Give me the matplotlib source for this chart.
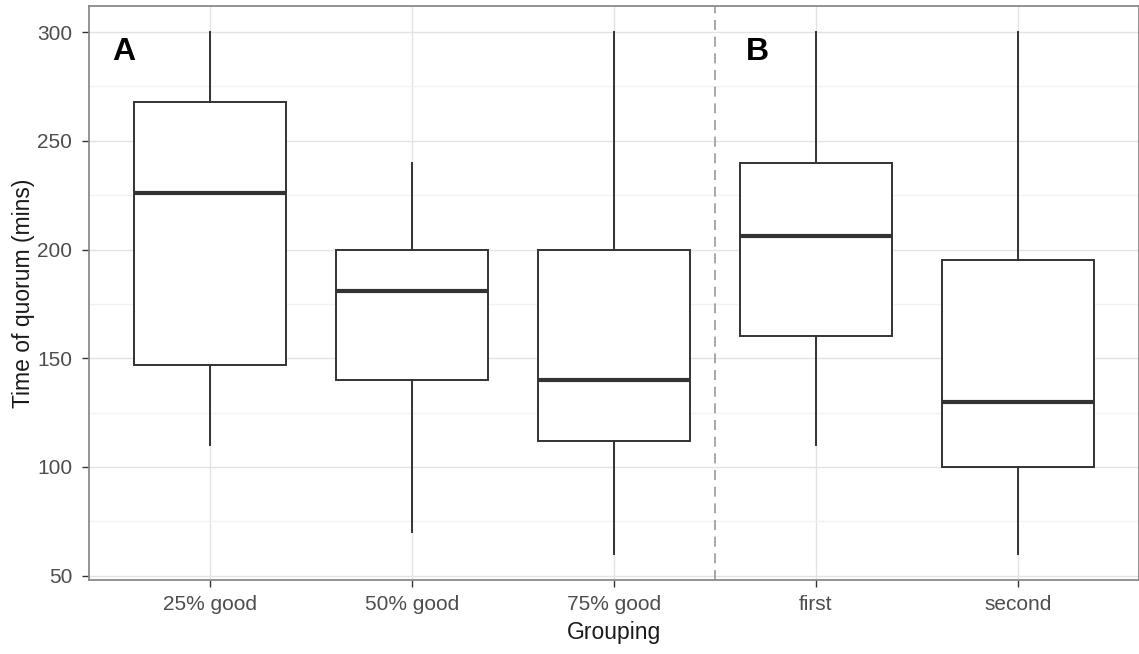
import matplotlib
matplotlib.use('Agg')
import matplotlib.pyplot as plt
from matplotlib.ticker import MultipleLocator

plt.rcParams['font.family'] = ['Liberation Sans', 'DejaVu Sans']

# boxplot summary values (minutes)
groups = ['25% good', '50% good', '75% good', 'first', 'second']
whislo = [110, 70, 60, 110, 60]
q1 = [147, 140, 112, 160, 100]
med = [226, 181, 140, 206, 130]
q3 = [268, 200, 200, 240, 195]
whishi = [300, 240, 300, 300, 300]
panel_tags = ['A', 'B']
panel_tag_x = [0.57, 3.71]
panel_tag_y = 291
split_at = 3.5

stats = []
for i in range(len(groups)):
    stats.append({'label': groups[i], 'whislo': whislo[i], 'q1': q1[i],
                  'med': med[i], 'q3': q3[i], 'whishi': whishi[i], 'fliers': []})

fig = plt.figure(figsize=(11.39, 6.54), dpi=100)
ax = fig.add_axes([89/1139, 1 - 580/654, 1 - 89/1139, 574/654])

line_col = '#333333'
ax.bxp(stats, positions=range(1, len(groups) + 1), widths=0.75,
       showcaps=False, patch_artist=True,
       boxprops=dict(facecolor='white', edgecolor=line_col, linewidth=1.4),
       medianprops=dict(color=line_col, linewidth=3),
       whiskerprops=dict(color=line_col, linewidth=1.4))

ax.set_xlim(0.4, 5.6)
ax.set_ylim(48, 312)
ax.yaxis.set_major_locator(MultipleLocator(50))
ax.yaxis.set_minor_locator(MultipleLocator(25))

ax.set_axisbelow(True)
ax.grid(True, which='major', color='#e3e3e3', linewidth=1)
ax.grid(True, which='minor', axis='y', color='#f2f2f2', linewidth=1)
ax.tick_params(which='minor', length=0)
ax.tick_params(which='major', length=5, width=1, color='#333333',
               labelcolor='#4d4d4d', labelsize=15)
ax.tick_params(axis='x', pad=5.5)
ax.tick_params(axis='y', pad=7)

for s in ax.spines.values():
    s.set_color('#8a8a8a')
    s.set_linewidth(1.3)

# dashed separator between the two panels
ax.axvline(split_at, color='#9a9a9a', linestyle=(0, (6, 4)), linewidth=1.2)

for tag, tx in zip(panel_tags, panel_tag_x):
    ax.text(tx, panel_tag_y, tag, fontsize=23, fontweight='bold',
            ha='center', va='center', color='black')

ax.set_xlabel('Grouping', fontsize=16.5, color='#1a1a1a', labelpad=5)
ax.set_ylabel('Time of quorum (mins)', fontsize=16.5, color='#1a1a1a', labelpad=1.5)

fig.savefig('out.png', dpi=100, facecolor='white')
